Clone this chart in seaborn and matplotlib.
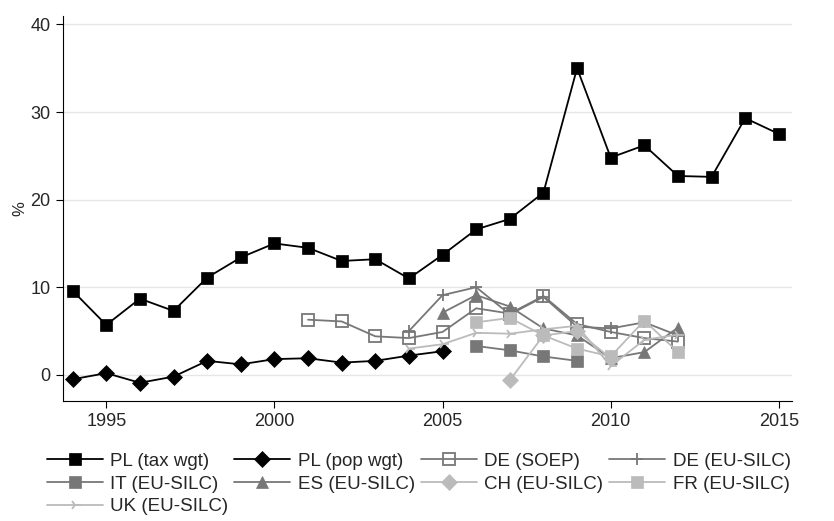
import pandas as pd
import numpy as np
import seaborn as sns
from matplotlib import pyplot as plt

sns.set_style('white')
plt.rcParams['font.family'] = ['Liberation Sans', 'DejaVu Sans']
plt.rcParams['font.size'] = 12

years_pl = list(range(1994, 2016))
pl_tax = [9.6, 5.7, 8.7, 7.3, 11.1, 13.4, 15.0, 14.5, 13.0, 13.2, 11.0, 13.7,
          16.6, 17.8, 20.8, 35.0, 24.8, 26.2, 22.7, 22.6, 29.3, 27.5]
years_pop = list(range(1994, 2006))
pl_pop = [-0.5, 0.2, -0.9, -0.2, 1.6, 1.2, 1.8, 1.9, 1.4, 1.6, 2.2, 2.7]
years_soep = list(range(2001, 2013))
de_soep = [6.3, 6.1, 4.4, 4.2, 4.9, 7.6, 7.0, 9.0, 5.8, 4.9, 4.2, 3.8]
years_silc = list(range(2004, 2013))
de_silc = [5.0, 9.1, 10.0, 6.9, 8.9, 5.5, 5.3, 6.0, 4.5]
years_it = list(range(2006, 2010))
it_silc = [3.3, 2.8, 2.1, 1.6]
years_es = list(range(2005, 2013))
es_silc = [7.1, 9.1, 7.8, 5.3, 4.5, 1.9, 2.6, 5.4]
years_ch = list(range(2007, 2011))
ch_silc = [-0.6, 4.5, 5.0, 1.9]
years_fr = list(range(2006, 2013))
fr_silc = [6.0, 6.5, 4.5, 3.0, 2.1, 6.2, 2.6]
years_uk = list(range(2004, 2013))
uk_silc = [3.0, 3.5, 4.8, 4.7, 5.2, 5.6, 1.0, 4.0, 4.6]

series = [
    ('PL (tax wgt)', years_pl, pl_tax, 'black', 's', 'full'),
    ('PL (pop wgt)', years_pop, pl_pop, 'black', 'D', 'full'),
    ('DE (SOEP)', years_soep, de_soep, '#777777', 's', 'none'),
    ('DE (EU-SILC)', years_silc, de_silc, '#777777', '+', 'full'),
    ('IT (EU-SILC)', years_it, it_silc, '#777777', 's', 'full'),
    ('ES (EU-SILC)', years_es, es_silc, '#777777', '^', 'full'),
    ('CH (EU-SILC)', years_ch, ch_silc, '#bbbbbb', 'D', 'full'),
    ('FR (EU-SILC)', years_fr, fr_silc, '#bbbbbb', 's', 'full'),
    ('UK (EU-SILC)', years_uk, uk_silc, '#bbbbbb', '4', 'full'),
]

fig, ax = plt.subplots(figsize=(8.34, 5.21), dpi=100)
for name, x, y, c, m, fs in series:
    df = pd.DataFrame({'year': x, 'val': y})
    sns.lineplot(data=df, x='year', y='val', ax=ax, color=c, marker=m,
                 markersize=8, fillstyle=fs, markeredgecolor=c,
                 markerfacecolor=('none' if fs == 'none' else c),
                 markeredgewidth=1.3 if fs == 'none' or m in '+4' else 0.5,
                 linewidth=1.3, label=name)

ax.set_xlim(1993.7, 2015.4)
ax.set_ylim(-3, 41)
ax.set_xticks([1995, 2000, 2005, 2010, 2015])
ax.set_yticks([0, 10, 20, 30, 40])
ax.yaxis.grid(True, color='#e6e6e6', linewidth=1)
ax.set_xlabel('')
ax.set_ylabel('%', labelpad=2)
for s in ['top', 'right']:
    ax.spines[s].set_visible(False)
for s in ['left', 'bottom']:
    ax.spines[s].set_color('black')
ax.tick_params(axis='both', direction='out', length=5, color='black',
               left=True, bottom=True, labelsize=13)
h, l = ax.get_legend_handles_labels()
order = [0, 4, 8, 1, 5, 2, 6, 3, 7]
ax.legend([h[i] for i in order], [l[i] for i in order],
          loc='upper left', bbox_to_anchor=(-0.045, -0.09), ncol=4, frameon=False,
          handlelength=3, columnspacing=0.3, handletextpad=0.4, fontsize=13.5,
          labelspacing=0.3)
plt.subplots_adjust(left=0.075, right=0.95, top=0.97, bottom=0.23)
plt.savefig('out.png')
